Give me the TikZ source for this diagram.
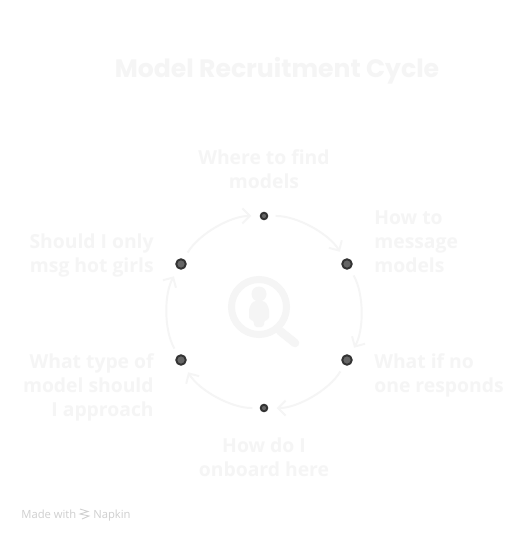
\documentclass[tikz,border=0pt]{standalone}
\usepackage{fontspec}
\setmainfont{Open Sans}
\newfontfamily\titlefont{Poppins}
\usetikzlibrary{arrows.meta}
\definecolor{CycleFaint}{HTML}{F5F5F5}
\definecolor{CycleDot}{HTML}{666666}
\definecolor{CycleRim}{HTML}{333333}
\definecolor{CycleMark}{HTML}{CFCFCF}
\tikzset{
  cycletitle/.style={font=\titlefont\bfseries\fontsize{14.3}{18}\selectfont,text=CycleFaint},
  cyclelabel/.style={font=\fontsize{11}{13.66}\selectfont\bfseries,text=CycleFaint,inner sep=0pt},
  cycledot/.style={circle,draw=CycleRim,fill=CycleDot,line width=1.1pt,inner sep=0pt,minimum size=0.19cm},
  cyclesmall/.style={cycledot,minimum size=0.13cm},
  cycleflow/.style={-{Straight Barb[length=0.15cm,width=0.3cm]},draw=CycleFaint,line width=1.1pt,
    bend left=30,looseness=0.85,shorten >=0.17cm,shorten <=0.15cm},
  napkinmark/.style={font=\fontsize{6.4}{8}\selectfont,text=CycleMark,inner sep=0pt}
}
\begin{document}
\begin{tikzpicture}[x=0.02cm,y=-0.02cm]
  \useasboundingbox (0,0) rectangle (517,538);
  \fill[white] (0,0) rectangle (517,538);

  \node[cycletitle] (title) at (277,70.5) {Model Recruitment Cycle};

  \node[cyclesmall] (find) at (264,216) {};
  \node[cycledot] (message) at (347,264) {};
  \node[cycledot] (responds) at (347,360) {};
  \node[cyclesmall] (onboard) at (264,408) {};
  \node[cycledot] (approach) at (181,360) {};
  \node[cycledot] (hot) at (181,264) {};

  \node[cyclelabel,align=center,anchor=south] at (264,189) {Where to find\\models};
  \node[cyclelabel,align=left,anchor=west] at (374,242) {How to\\message\\models};
  \node[cyclelabel,align=left,anchor=west] at (374,375) {What if no\\one responds};
  \node[cyclelabel,align=center,anchor=north] at (264,437) {How do I\\onboard here};
  \node[cyclelabel,align=right,anchor=east] at (154,387) {What type of\\model should\\I approach};
  \node[cyclelabel,align=right,anchor=east] at (154,255) {Should I only\\msg hot girls};

  \draw[cycleflow] (find) to (message);
  \draw[cycleflow] (message) to (responds);
  \draw[cycleflow] (responds) to (onboard);
  \draw[cycleflow] (onboard) to (approach);
  \draw[cycleflow] (approach) to (hot);
  \draw[cycleflow] (hot) to (find);

  % magnifier
  \draw[CycleFaint,line width=0.14cm] (259,307) circle (27.5);
  \draw[CycleFaint,line width=0.17cm,line cap=round] (280,331) -- (295,343);
  \fill[CycleFaint] (259,294) circle (7.5);
  \fill[CycleFaint,rounded corners=0.06cm] (254,327) -- (254,320) -- (249,320) -- (249,308) -- (253,301)
    -- (265,301) -- (269,308) -- (269,320) -- (264,320) -- (264,327) -- cycle;

  \node[napkinmark,anchor=base west] (made) at (21,518) {Made with};
  \node[napkinmark,anchor=base west] (napkin) at (93,518) {Napkin};
  \draw[CycleMark,line width=0.5pt] (80,509) -- (88,511.5) -- (80,514) -- (89,516) -- (82,519);
\end{tikzpicture}
\end{document}
